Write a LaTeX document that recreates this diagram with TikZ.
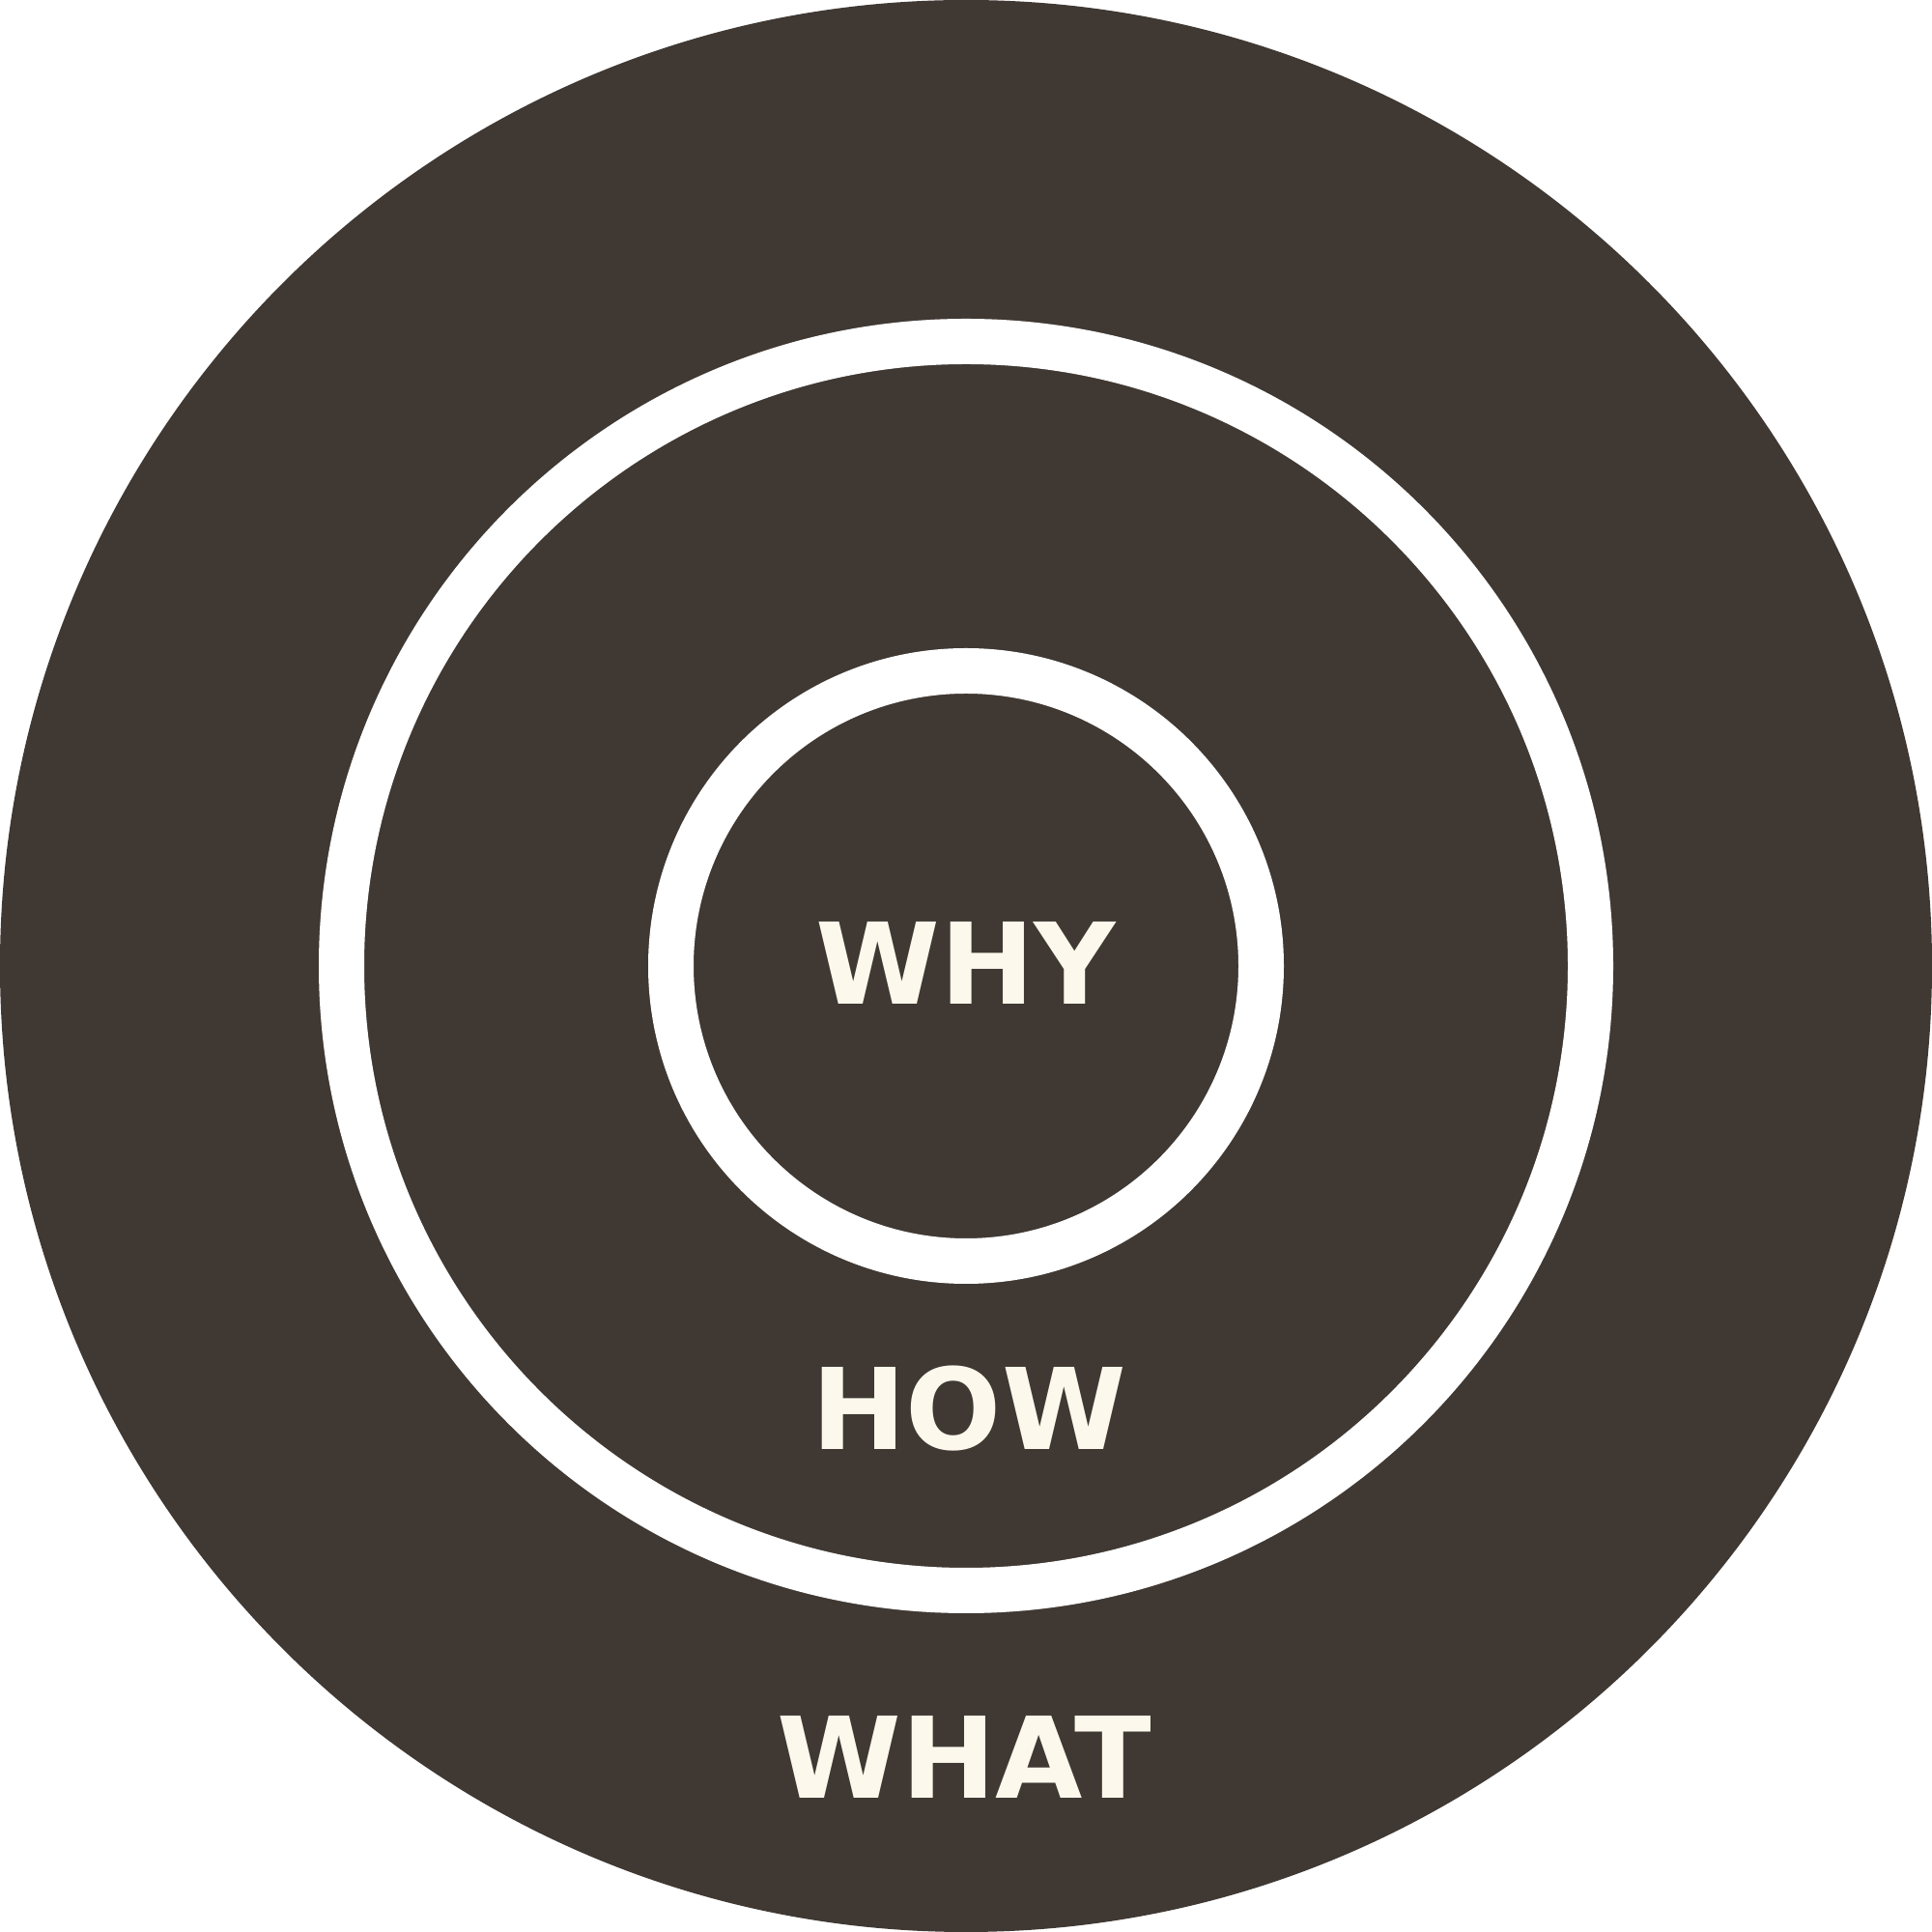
\documentclass[tikz,border=0pt]{standalone}
\usepackage{fontspec}
\newfontfamily\labelfont{DejaVu Sans}
\definecolor{darkbrown}{HTML}{3F3833}
\definecolor{cream}{HTML}{FCF8EC}
\begin{document}
\begin{tikzpicture}
\tikzset{
  ring/.style={draw=white, line width=0.47cm},
  lbl/.style={text=cream, font=\labelfont\bfseries\fontsize{33.2}{36}\selectfont, anchor=base, inner sep=0pt}
}
\useasboundingbox (0,0) rectangle (20,20);
\fill[white] (0,0) rectangle (20,20);
\fill[darkbrown] (10,10) circle (10);
\draw[ring] (10,10) circle (6.465);
\draw[ring] (10,10) circle (3.055);
\node[lbl] (why) at (10,9.60) {WHY};
\node[lbl] (how) at (10.03,4.99) {HOW};
\node[lbl] (what) at (9.98,1.38) {WHAT};
\end{tikzpicture}
\end{document}
